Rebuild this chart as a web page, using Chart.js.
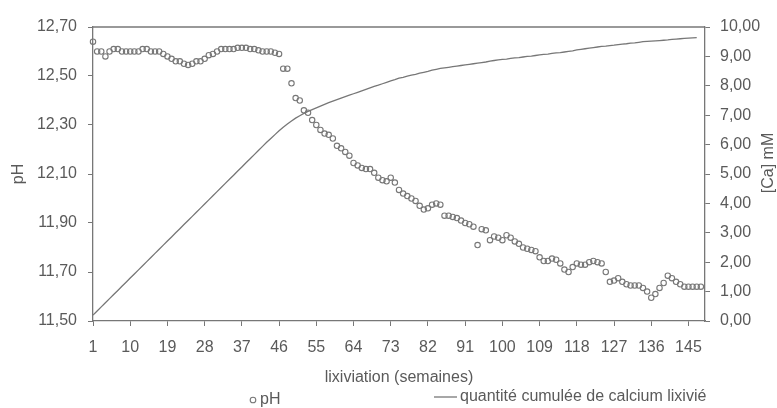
<!DOCTYPE html>
<html lang="fr">
<head>
<meta charset="UTF-8">
<title>pH et calcium lixivié</title>
<script src="https://cdn.jsdelivr.net/npm/chart.js"></script>
<style>
  body { margin: 0; background: #fff; }
  canvas { display: block; }
</style>
</head>
<body>
<canvas id="chart" width="777" height="408"></canvas>
<script>
// semaines de lixiviation (axe des catégories)
const semaines = Array.from({ length: 149 }, (_, i) => String(i + 1));

// pH mesuré, une valeur par semaine (1 à 148)
const ph = [
  12.64, 12.60, 12.60, 12.58, 12.60, 12.61, 12.61, 12.60, 12.60, 12.60,
  12.60, 12.60, 12.61, 12.61, 12.60, 12.60, 12.60, 12.59, 12.58, 12.57,
  12.56, 12.56, 12.55, 12.545, 12.55, 12.56, 12.56, 12.57, 12.585, 12.59,
  12.60, 12.61, 12.61, 12.61, 12.61, 12.615, 12.615, 12.615, 12.61, 12.61,
  12.605, 12.60, 12.60, 12.60, 12.595, 12.59, 12.53, 12.53, 12.47, 12.41,
  12.40, 12.36, 12.35, 12.32, 12.30, 12.28, 12.265, 12.26, 12.245, 12.215,
  12.205, 12.19, 12.175, 12.145, 12.135, 12.125, 12.12, 12.12, 12.105, 12.085,
  12.075, 12.07, 12.085, 12.065, 12.035, 12.02, 12.01, 12.00, 11.99, 11.97,
  11.955, 11.96, 11.975, 11.98, 11.975, 11.93, 11.93, 11.925, 11.92, 11.91,
  11.90, 11.895, 11.885, 11.81, 11.875, 11.87, 11.83, 11.845, 11.84, 11.83,
  11.85, 11.84, 11.825, 11.815, 11.80, 11.795, 11.79, 11.785, 11.76, 11.745,
  11.745, 11.755, 11.75, 11.735, 11.71, 11.70, 11.72, 11.735, 11.73, 11.73,
  11.74, 11.745, 11.74, 11.735, 11.70, 11.66, 11.665, 11.675, 11.66, 11.65,
  11.645, 11.645, 11.645, 11.635, 11.62, 11.595, 11.61, 11.635, 11.655, 11.685,
  11.675, 11.66, 11.65, 11.64, 11.64, 11.64, 11.64, 11.64
];

// quantité cumulée de calcium lixivié (mM), semaines 1 à 147
const calcium = [
  0.20, 0.34, 0.48, 0.62, 0.76, 0.90, 1.04, 1.18, 1.32, 1.46,
  1.60, 1.74, 1.88, 2.02, 2.16, 2.30, 2.44, 2.58, 2.72, 2.86,
  3.00, 3.14, 3.28, 3.42, 3.56, 3.70, 3.84, 3.98, 4.12, 4.26,
  4.40, 4.54, 4.68, 4.82, 4.96, 5.10, 5.24, 5.38, 5.52, 5.66,
  5.80, 5.94, 6.08, 6.21, 6.34, 6.47, 6.59, 6.70, 6.80, 6.90,
  6.98, 7.06, 7.13, 7.19, 7.25, 7.31, 7.37, 7.43, 7.48, 7.53,
  7.58, 7.63, 7.68, 7.73, 7.78, 7.83, 7.88, 7.93, 7.98, 8.02,
  8.07, 8.12, 8.17, 8.21, 8.26, 8.29, 8.33, 8.36, 8.39, 8.43,
  8.46, 8.49, 8.53, 8.56, 8.59, 8.61, 8.63, 8.65, 8.67, 8.69,
  8.71, 8.73, 8.75, 8.77, 8.79, 8.81, 8.84, 8.86, 8.88, 8.90,
  8.91, 8.93, 8.95, 8.96, 8.98, 9.00, 9.01, 9.03, 9.05, 9.07,
  9.08, 9.10, 9.12, 9.13, 9.15, 9.17, 9.19, 9.22, 9.24, 9.26,
  9.28, 9.30, 9.32, 9.34, 9.35, 9.37, 9.38, 9.40, 9.42, 9.43,
  9.45, 9.46, 9.48, 9.50, 9.51, 9.52, 9.53, 9.54, 9.55, 9.56,
  9.58, 9.59, 9.60, 9.61, 9.62, 9.63, 9.64
];

const GRIS = '#777';
const TEXTE = '#5a5a5a';
const virgule = v => Number(v).toFixed(2).replace('.', ',');

Chart.defaults.font.family = '"Liberation Sans", Arial, sans-serif';
Chart.defaults.font.size = 16;
Chart.defaults.color = TEXTE;

// cadre du haut, titre de l'axe droit et légende
const habillage = {
  id: 'habillage',
  afterDraw(chart) {
    const { ctx, chartArea: a } = chart;
    ctx.save();
    ctx.strokeStyle = GRIS;
    ctx.lineWidth = 1.3;
    ctx.beginPath();
    ctx.moveTo(a.left, a.top);
    ctx.lineTo(a.right, a.top);
    ctx.stroke();

    ctx.fillStyle = TEXTE;
    ctx.font = '16px "Liberation Sans", Arial, sans-serif';
    ctx.textBaseline = 'middle';

    ctx.save();
    ctx.translate(769, 163);
    ctx.rotate(-Math.PI / 2);
    ctx.textAlign = 'center';
    ctx.fillText('[Ca] mM', 0, 0);
    ctx.restore();

    // légende
    ctx.textAlign = 'left';
    ctx.lineWidth = 1.1;
    ctx.beginPath();
    ctx.arc(253, 400, 2.8, 0, Math.PI * 2);
    ctx.stroke();
    ctx.fillText('pH', 260, 400);

    ctx.lineWidth = 1.3;
    ctx.beginPath();
    ctx.moveTo(434, 397);
    ctx.lineTo(457, 397);
    ctx.stroke();
    ctx.fillText('quantité cumulée de calcium lixivié', 460, 397);
    ctx.restore();
  }
};

new Chart(document.getElementById('chart'), {
  data: {
    labels: semaines,
    datasets: [{
      type: 'line',
      label: 'pH',
      data: ph,
      yAxisID: 'yPh',
      showLine: false,
      pointStyle: 'circle',
      pointRadius: 2.7,
      pointBorderWidth: 1.1,
      pointBorderColor: GRIS,
      pointBackgroundColor: 'rgba(0,0,0,0)'
    }, {
      type: 'line',
      label: 'quantité cumulée de calcium lixivié',
      data: calcium,
      yAxisID: 'yCa',
      borderColor: GRIS,
      borderWidth: 1.3,
      pointRadius: 0,
      tension: 0,
      fill: false
    }]
  },
  options: {
    responsive: false,
    devicePixelRatio: 1,
    animation: false,
    layout: { padding: { top: 27, bottom: 21, left: 0, right: 0 } },
    plugins: {
      legend: { display: false },
      tooltip: { enabled: false }
    },
    scales: {
      x: {
        type: 'category',
        offset: false,
        grid: { drawOnChartArea: false, tickLength: 5, tickColor: GRIS },
        border: { color: GRIS, width: 1.3 },
        ticks: { autoSkip: false, maxRotation: 0, padding: 12 },
        afterBuildTicks: scale => {
          scale.ticks = scale.ticks.filter(t => t.value % 9 === 0);
        },
        afterFit: scale => { scale.height = 66; },
        title: { display: true, text: 'lixiviation (semaines)', padding: 0 }
      },
      yPh: {
        type: 'linear',
        position: 'left',
        min: 11.5,
        max: 12.7,
        grid: { drawOnChartArea: false, tickLength: 5, tickColor: GRIS },
        border: { color: GRIS, width: 1.3 },
        ticks: { stepSize: 0.2, padding: 11, callback: virgule },
        afterFit: scale => { scale.width = 93; },
        title: { display: true, text: 'pH', padding: { top: 9, bottom: 0 } }
      },
      yCa: {
        type: 'linear',
        position: 'right',
        min: 0,
        max: 10,
        grid: { drawOnChartArea: false, tickLength: 5, tickColor: GRIS },
        border: { color: GRIS, width: 1.3 },
        ticks: { stepSize: 1, padding: 10, callback: virgule },
        afterFit: scale => { scale.width = 72; }
      }
    }
  },
  plugins: [habillage]
});
</script>
</body>
</html>
